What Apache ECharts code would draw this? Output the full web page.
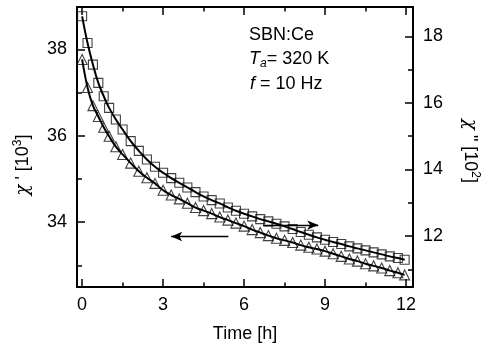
<!DOCTYPE html>
<html>
<head>
<meta charset="utf-8">
<script src="https://cdn.jsdelivr.net/npm/echarts@6/dist/echarts.min.js"></script>
<style>html,body{margin:0;padding:0;background:#fff;}#c{width:488px;height:353px;}</style>
</head>
<body>
<div id="c"></div>
<script>
// Time [h]
const time = [0, 0.2, 0.4, 0.6, 0.8, 1.0, 1.25, 1.5, 1.8, 2.1, 2.4, 2.7, 3.0, 3.3, 3.6, 3.9, 4.2, 4.5, 4.8, 5.1, 5.4, 5.7, 6.0, 6.3, 6.6, 6.9, 7.2, 7.5, 7.8, 8.1, 8.4, 8.7, 9.0, 9.3, 9.6, 9.9, 10.2, 10.5, 10.8, 11.1, 11.4, 11.7, 11.95];
// chi' [10^3] (triangles, left axis)
const chiReal = [37.77, 37.12, 36.70, 36.45, 36.20, 35.99, 35.75, 35.57, 35.37, 35.18, 35.03, 34.90, 34.74, 34.63, 34.54, 34.44, 34.34, 34.27, 34.20, 34.12, 34.05, 33.98, 33.91, 33.83, 33.76, 33.69, 33.63, 33.58, 33.53, 33.47, 33.42, 33.38, 33.33, 33.27, 33.21, 33.15, 33.10, 33.04, 32.99, 32.94, 32.88, 32.83, 32.78];
// chi'' [10^2] (squares, right axis)
const chiImag = [18.6, 17.8, 17.15, 16.6, 16.2, 15.85, 15.5, 15.2, 14.85, 14.56, 14.3, 14.08, 13.9, 13.74, 13.6, 13.46, 13.32, 13.19, 13.08, 12.98, 12.86, 12.76, 12.67, 12.59, 12.51, 12.44, 12.37, 12.29, 12.21, 12.12, 12.04, 11.96, 11.89, 11.82, 11.76, 11.69, 11.63, 11.57, 11.51, 11.45, 11.39, 11.34, 11.29];
// tick values
const xMajor = [0, 3, 6, 9, 12];
const xMinor = [1.5, 4.5, 7.5, 10.5];
const leftMajor = [34, 36, 38];
const leftMinor = [33, 35, 37];
const rightMajor = [12, 14, 16, 18];
const rightMinor = [11, 13, 15, 17];
// arrows (data coords)
const arrowLeft = {from: [5.42, 33.67], to: [3.3, 33.67]};
const arrowRight = {from: [6.71, 12.33], to: [8.75, 12.33]};

const X_MIN = -0.19, X_MAX = 12.26;
const L_MIN = 32.5, L_MAX = 38.985;
const R_MIN = 10.47, R_MAX = 18.88;

const FONT = 'Liberation Sans, Arial, Helvetica, sans-serif';
const axisLineStyle = {color: '#000', width: 2};
const tickLine = {color: '#000', width: 1.5};

function xAxisDef(pos, ticks, len, labels, showLine) {
  return {
    type: 'value', position: pos, min: X_MIN, max: X_MAX,
    axisLine: {show: showLine, onZero: false, lineStyle: axisLineStyle},
    axisTick: {show: true, inside: true, length: len, customValues: ticks, lineStyle: tickLine},
    axisLabel: labels ? {show: true, customValues: labels, fontFamily: FONT, fontSize: 18, color: '#000', margin: 9} : {show: false},
    splitLine: {show: false}
  };
}
function yAxisDef(pos, mn, mx, ticks, len, labels, showLine) {
  return {
    type: 'value', position: pos, min: mn, max: mx,
    axisLine: {show: showLine, onZero: false, lineStyle: axisLineStyle},
    axisTick: {show: true, inside: true, length: len, customValues: ticks, lineStyle: tickLine},
    axisLabel: labels ? {show: true, customValues: labels, fontFamily: FONT, fontSize: 18, color: '#000', margin: 10} : {show: false},
    splitLine: {show: false}
  };
}

const triData = time.map((t, i) => [t, chiReal[i]]);
const sqData = time.map((t, i) => [t, chiImag[i]]);

const xa0 = xAxisDef('bottom', xMajor, 8, xMajor, true);
xa0.name = 'Time [h]';
xa0.nameLocation = 'middle';
xa0.nameGap = 38;
xa0.nameTextStyle = {fontFamily: FONT, fontSize: 18, color: '#000'};

const option = {
  animation: false,
  backgroundColor: '#fff',
  grid: {left: 77, right: 75, top: 7, bottom: 66, containLabel: false, outerBoundsMode: 'none'},
  xAxis: [
    xa0,
    xAxisDef('bottom', xMinor, 4.5, null, false),
    xAxisDef('top', xMajor, 8, null, true),
    xAxisDef('top', xMinor, 4.5, null, false)
  ],
  yAxis: [
    yAxisDef('left', L_MIN, L_MAX, leftMajor, 8, leftMajor, true),
    yAxisDef('left', L_MIN, L_MAX, leftMinor, 5, null, false),
    yAxisDef('right', R_MIN, R_MAX, rightMajor, 8, rightMajor, true),
    yAxisDef('right', R_MIN, R_MAX, rightMinor, 5, null, false)
  ],
  series: [
    {
      type: 'scatter', xAxisIndex: 0, yAxisIndex: 0, data: triData,
      symbol: 'triangle', symbolSize: 10, z: 2,
      itemStyle: {color: 'rgba(255,255,255,0)', borderColor: '#111', borderWidth: 1.1},
      markLine: {
        silent: true, symbol: ['none', 'arrow'], symbolSize: [7, 11],
        lineStyle: {color: '#000', width: 1.3, type: 'solid'},
        label: {show: false},
        data: [[{coord: arrowLeft.from}, {coord: arrowLeft.to}]]
      }
    },
    {
      type: 'scatter', xAxisIndex: 0, yAxisIndex: 2, data: sqData,
      symbol: 'rect', symbolSize: 9, z: 2,
      itemStyle: {color: 'rgba(255,255,255,0)', borderColor: '#111', borderWidth: 1.1},
      markLine: {
        silent: true, symbol: ['none', 'arrow'], symbolSize: [7, 11],
        lineStyle: {color: '#000', width: 1.3, type: 'solid'},
        label: {show: false},
        data: [[{coord: arrowRight.from}, {coord: arrowRight.to}]]
      }
    },
    {
      type: 'line', xAxisIndex: 0, yAxisIndex: 0, data: triData, smooth: 0.4,
      showSymbol: false, symbol: 'none', z: 3,
      lineStyle: {color: '#000', width: 2}
    },
    {
      type: 'line', xAxisIndex: 0, yAxisIndex: 2, data: sqData, smooth: 0.4,
      showSymbol: false, symbol: 'none', z: 3,
      lineStyle: {color: '#000', width: 2}
    }
  ],
  graphic: [
    {type: 'text', left: 249, top: 26, style: {text: 'SBN:Ce', font: '18px ' + FONT, fill: '#000'}},
    {type: 'text', left: 249, top: 50, style: {
      text: '{i|T}{sub|a}{n|= 320 K}',
      rich: {
        i: {fontFamily: FONT, fontSize: 18, fontStyle: 'italic', color: '#000'},
        sub: {fontFamily: FONT, fontSize: 12, fontStyle: 'italic', color: '#000', padding: [10, 0, 0, 0]},
        n: {fontFamily: FONT, fontSize: 18, color: '#000'}
      }
    }},
    {type: 'text', left: 250, top: 75, style: {
      text: '{i|f}{n| = 10 Hz}',
      rich: {
        i: {fontFamily: FONT, fontSize: 18, fontStyle: 'italic', color: '#000'},
        n: {fontFamily: FONT, fontSize: 18, color: '#000'}
      }
    }},
    {type: 'text', x: 23, y: 165, rotation: Math.PI / 2, style: {
      text: "{i|χ}{n| ' [10}{sup|3}{n|]}",
      align: 'center', verticalAlign: 'middle',
      rich: {
        i: {fontFamily: 'DejaVu Serif, serif', fontSize: 18, fontStyle: 'italic', color: '#000'},
        n: {fontFamily: FONT, fontSize: 18, color: '#000'},
        sup: {fontFamily: FONT, fontSize: 12, color: '#000', padding: [0, 0, 10, 0]}
      }
    }},
    {type: 'text', x: 470, y: 151, rotation: -Math.PI / 2, style: {
      text: '{i|χ}{n| " [10}{sup|2}{n|]}',
      align: 'center', verticalAlign: 'middle',
      rich: {
        i: {fontFamily: 'DejaVu Serif, serif', fontSize: 18, fontStyle: 'italic', color: '#000'},
        n: {fontFamily: FONT, fontSize: 18, color: '#000'},
        sup: {fontFamily: FONT, fontSize: 12, color: '#000', padding: [0, 0, 10, 0]}
      }
    }}
  ]
};

const chart = echarts.init(document.getElementById('c'), null, {renderer: 'canvas'});
chart.setOption(option);
</script>
</body>
</html>
